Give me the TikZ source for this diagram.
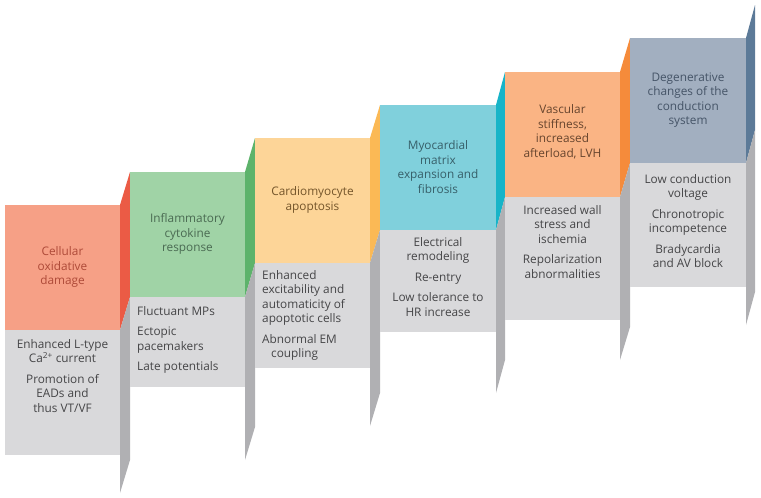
\documentclass[tikz,border=0pt]{standalone}
\usepackage{fontspec}
\setmainfont{Open Sans}

\begin{document}
\begin{tikzpicture}[x=1pt, y=-1pt,
    hdr/.style={font=\fontsize{11.8}{14.5}\selectfont, align=center, inner sep=0pt},
    lst/.style={font=\fontsize{11.8}{14.5}\selectfont, inner sep=0pt, text=graytext}]

%my colors
\definecolor{grayfront}{HTML}{D9D9DB}
\definecolor{grayside}{HTML}{B0B0B3}
\definecolor{graytext}{HTML}{454547}

\definecolor{redfront}{HTML}{F6A086}
\definecolor{redside}{HTML}{EB5B45}
\definecolor{redtext}{HTML}{AE4A38}
\definecolor{greenfront}{HTML}{A0D3A6}
\definecolor{greenside}{HTML}{5DB36B}
\definecolor{greentext}{HTML}{4A6A52}
\definecolor{yellowfront}{HTML}{FDD598}
\definecolor{yellowside}{HTML}{FBB955}
\definecolor{yellowtext}{HTML}{74552A}
\definecolor{cyanfront}{HTML}{80D0DC}
\definecolor{cyanside}{HTML}{17B4C8}
\definecolor{cyantext}{HTML}{375F69}
\definecolor{orangefront}{HTML}{FAB484}
\definecolor{orangeside}{HTML}{F58B3B}
\definecolor{orangetext}{HTML}{67452E}
\definecolor{bluefront}{HTML}{A2AFC0}
\definecolor{blueside}{HTML}{5C7A98}
\definecolor{bluetext}{HTML}{455467}

    \useasboundingbox (0,0) rectangle (761,498);

    % Step 1 - cellular oxidative damage
    \fill[redfront] (5,205) rectangle (120,330);
    \fill[grayfront] (5,330) rectangle (120,455);
    \fill[redside] (120,205) -- (130,172) -- (130,297) -- (120,330) -- cycle;
    \fill[grayside] (120,330) -- (130,297) -- (130,460) -- (120,493) -- cycle;
    \node[hdr, text=redtext] (ox) at (62.5,267) {Cellular\\oxidative\\damage};
    \node[lst, anchor=north, align=center] (oxfx) at (62.5,339)
        {Enhanced L-type\\Ca\textsuperscript{2+} current\\[6pt]Promotion of\\EADs and\\thus VT/VF};

    % Step 2 - inflammatory cytokine response
    \fill[greenfront] (130,172) rectangle (245,297);
    \fill[grayfront] (130,297) rectangle (245,387);
    \fill[greenside] (245,172) -- (255,138) -- (255,263) -- (245,297) -- cycle;
    \fill[grayside] (245,297) -- (255,263) -- (255,427) -- (245,460) -- cycle;
    \node[hdr, text=greentext] (cyt) at (187.5,234) {Inflammatory\\cytokine\\response};
    \node[lst, anchor=north west, align=left] (cytfx) at (137,306)
        {Fluctuant MPs\\[6pt]Ectopic\\pacemakers\\[6pt]Late potentials};

    % Step 3 - cardiomyocyte apoptosis
    \fill[yellowfront] (255,138) rectangle (370,263);
    \fill[grayfront] (255,263) rectangle (370,368);
    \fill[yellowside] (370,138) -- (380,105) -- (380,230) -- (370,263) -- cycle;
    \fill[grayside] (370,263) -- (380,230) -- (380,393) -- (370,426) -- cycle;
    \node[hdr, text=yellowtext] (apo) at (312.5,200) {Cardiomyocyte\\apoptosis};
    \node[lst, anchor=north west, align=left] (apofx) at (262,270)
        {Enhanced\\excitability and\\automaticity of\\apoptotic cells\\[6pt]Abnormal EM\\\hspace*{9pt}coupling};

    % Step 4 - matrix expansion and fibrosis
    \fill[cyanfront] (380,105) rectangle (496,230);
    \fill[grayfront] (380,230) rectangle (496,332);
    \fill[cyanside] (496,105) -- (505,72) -- (505,197) -- (496,230) -- cycle;
    \fill[grayside] (496,230) -- (505,197) -- (505,360) -- (496,393) -- cycle;
    \node[hdr, text=cyantext] (fib) at (438,167) {Myocardial\\matrix\\expansion and\\fibrosis};
    \node[lst, anchor=north, align=center] (fibfx) at (438,237)
        {Electrical\\remodeling\\[6pt]Re-entry\\[6pt]Low tolerance to\\HR increase};

    % Step 5 - vascular stiffness
    \fill[orangefront] (505,72) rectangle (620,197);
    \fill[grayfront] (505,197) rectangle (620,320);
    \fill[orangeside] (620,72) -- (630,38) -- (630,163) -- (620,197) -- cycle;
    \fill[grayside] (620,197) -- (630,163) -- (630,327) -- (620,360) -- cycle;
    \node[hdr, text=orangetext] (vas) at (562.5,132) {Vascular\\stiffness,\\increased\\afterload, LVH};
    \node[lst, anchor=north, align=center] (vasfx) at (562.5,205)
        {Increased wall\\stress and\\ischemia\\[6pt]Repolarization\\abnormalities};

    % Step 6 - conduction system
    \fill[bluefront] (630,38) rectangle (746,163);
    \fill[grayfront] (630,163) rectangle (746,287);
    \fill[blueside] (746,38) -- (755,5) -- (755,130) -- (746,163) -- cycle;
    \fill[grayside] (746,163) -- (755,130) -- (755,292) -- (746,325) -- cycle;
    \node[hdr, text=bluetext] (cond) at (688,100) {Degenerative\\changes of the\\conduction\\system};
    \node[lst, anchor=north, align=center] (condfx) at (688,174)
        {Low conduction\\voltage\\[6pt]Chronotropic\\incompetence\\[6pt]Bradycardia\\and AV block};

\end{tikzpicture}
\end{document}
